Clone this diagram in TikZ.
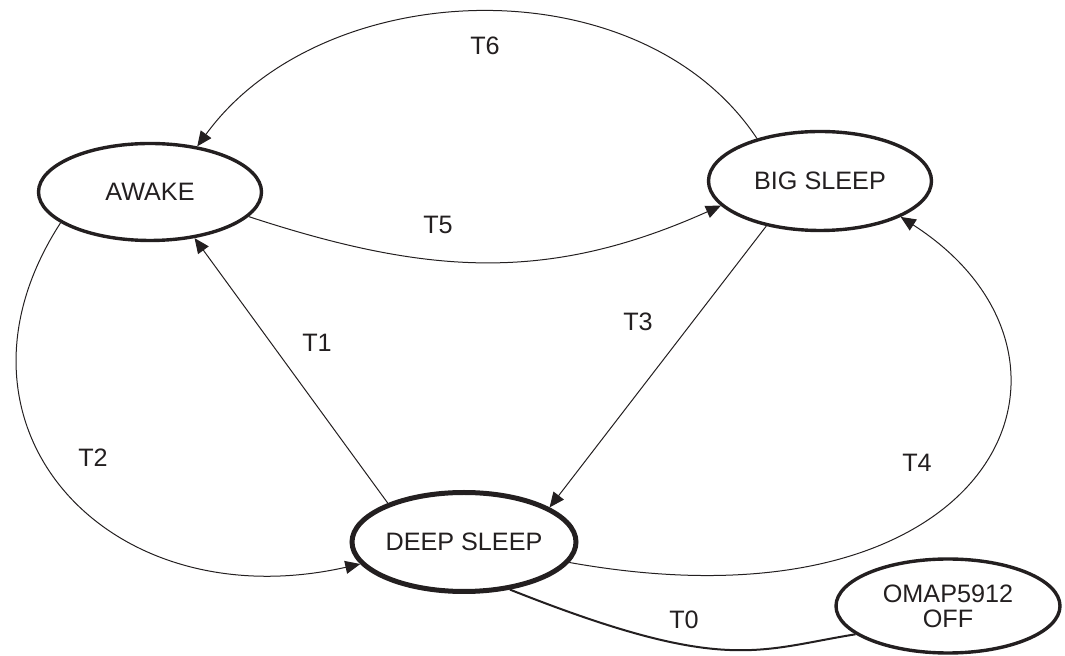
\documentclass[tikz,border=0pt]{standalone}
\usepackage{fontspec}
\setmainfont{Liberation Sans}
\usetikzlibrary{shapes.geometric,arrows.meta}
\definecolor{ink}{RGB}{35,31,32}
\begin{document}
\begin{tikzpicture}[x=0.5pt,y=-0.5pt,
  state/.style={ellipse,draw=ink,line width=1.7pt,inner sep=0pt,
    minimum width=111.5pt,minimum height=48.5pt,text=ink,
    font=\fontsize{12.6}{12.6}\selectfont},
  mainstate/.style={state,line width=2.5pt},
  trans/.style={draw=ink,line width=0.5pt},
  arr/.style={-{Triangle[length=7.5pt,width=6.5pt]}},
  lbl/.style={text=ink,inner sep=0pt,font=\fontsize{12.6}{12.6}\selectfont}]
\useasboundingbox (0,0) rectangle (1065,656);

% states
\node[state] (awake) at (150,192) {AWAKE};
\node[state,minimum height=49.5pt] (big) at (820,181) {BIG SLEEP};
\node[mainstate,minimum width=112pt,minimum height=49.5pt] (deep) at (464,542) {DEEP SLEEP};
\node[state,align=center,minimum width=112pt,minimum height=47pt] (off) at (948,606) {OMAP5912\\OFF};

% transitions
\draw[trans,arr] (deep.153) -- (awake.-46);
\draw[trans,arr] (big.220) -- (deep.22);
\draw[trans,arr] (awake.-14) .. controls +(180,59) and +(-172,77) .. (big.194);
\draw[trans,arr] (big.146) .. controls +(-117,-176) and +(125,-172) .. (awake.44);
\draw[trans,arr] (awake.199) .. controls +(-131,202) and +(-254,57) .. (deep.192);
\draw[trans,arr] (deep.-11) .. controls +(430,77) and +(218,140) .. (big.-24);
\draw[draw=ink,line width=1pt] (deep.-46) .. controls +(214,85) and +(-99,16) .. (off.197);

% transition labels
\node[lbl] (t0) at (684,620) {T0};
\node[lbl] (t1) at (317,343) {T1};
\node[lbl] (t2) at (93,458) {T2};
\node[lbl] (t3) at (638,322) {T3};
\node[lbl] (t4) at (917,463) {T4};
\node[lbl] (t5) at (438,225) {T5};
\node[lbl] (t6) at (485,46) {T6};
\end{tikzpicture}
\end{document}
